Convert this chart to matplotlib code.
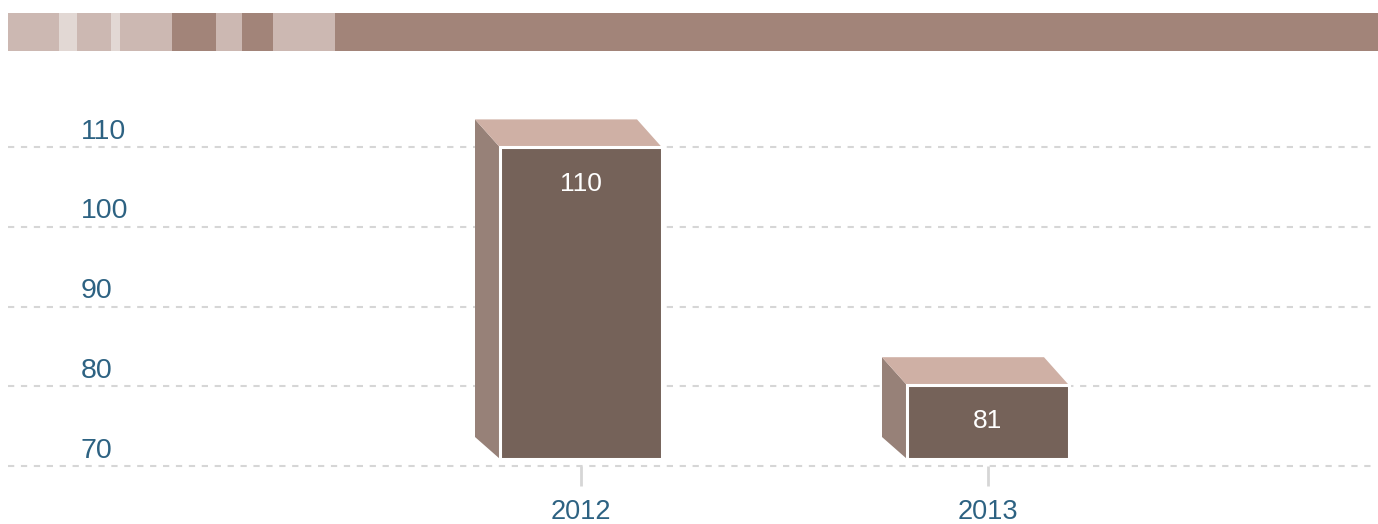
import matplotlib.pyplot as plt
from matplotlib.patches import Polygon

years = ['2012', '2013']
values = [110, 81]
y_ticks = [70, 80, 90, 100, 110]

FRONT = '#756259'
SIDE = '#978178'
TOP = '#cfb0a5'
LABEL = '#2d6282'
GRID = '#d6d6d6'

W, H = 1378, 524
plt.rcParams['font.family'] = ['Liberation Sans', 'DejaVu Sans']

fig = plt.figure(figsize=(W / 100, H / 100), dpi=100)

# decorative banner along the top
band = fig.add_axes([8 / W, (H - 51) / H, 1370 / W, 38 / H])
edges = [8, 59, 77, 111, 120, 172, 216, 242, 273, 335, 1378]
band_cols = ['#ccb8b2', '#e2d8d4', '#ccb8b2', '#e2d8d4', '#ccb8b2',
             '#a28479', '#ccb8b2', '#a28479', '#ccb8b2', '#a28479']
for i, c in enumerate(band_cols):
    band.barh(0, edges[i + 1] - edges[i], left=edges[i], height=1, color=c)
band.set_xlim(8, 1378)
band.set_ylim(-0.5, 0.5)
band.axis('off')

# main axes: gridlines / ticks
ax = fig.add_axes([8 / W, (H - 466) / H, 1364 / W, 406 / H])
ax.set_xlim((8 - 581) / 407, (1372 - 581) / 407)
ax.set_ylim(70, 70 + 406 / 7.975)
for t in y_ticks:
    ax.axhline(t, color=GRID, lw=1.5, ls=(0, (3, 3.2)), clip_on=False, zorder=0)
    ax.text(73 / 1364, t + 0.3, str(t), transform=ax.get_yaxis_transform(),
            ha='left', va='bottom', fontsize=20.5, color=LABEL,
            family=['Liberation Sans Narrow', 'Liberation Sans'])
ax.set_yticks([])
ax.set_xticks(range(len(years)), years)
ax.tick_params(axis='x', length=14.5, width=2, color=GRID, pad=9,
               labelsize=19.5, labelcolor=LABEL)
for s in ax.spines.values():
    s.set_visible(False)

# bar axes (own vertical scale, shares x)
base, k = 72, 8.2
bx = ax.twinx()
bx.set_ylim(base - 7 / k, base + 399 / k)
bx.set_yticks([])
for s in bx.spines.values():
    s.set_visible(False)

bw = 162 / 407
dx = 25 / 407
dyt = 28 / k
dyb = 22 / k
for i, v in enumerate(values):
    x0, x1 = i - bw / 2, i + bw / 2
    side = [(x0, v), (x0 - dx, v + dyt), (x0 - dx, base + dyb), (x0, base)]
    top = [(x0, v), (x0 - dx, v + dyt), (x1 - dx, v + dyt), (x1, v)]
    bx.add_patch(Polygon(side, closed=True, fc=SIDE, ec='none', zorder=2))
    bx.add_patch(Polygon(top, closed=True, fc=TOP, ec='none', zorder=2))
    bx.bar(i, v - base, bottom=base, width=bw, color=FRONT,
           edgecolor='white', linewidth=2.2, zorder=3)
    bx.annotate(str(v), (i, v), xytext=(0, -26), textcoords='offset points',
                ha='center', va='center', color='white', fontsize=19, zorder=4)

fig.savefig('out.png', dpi=100)
